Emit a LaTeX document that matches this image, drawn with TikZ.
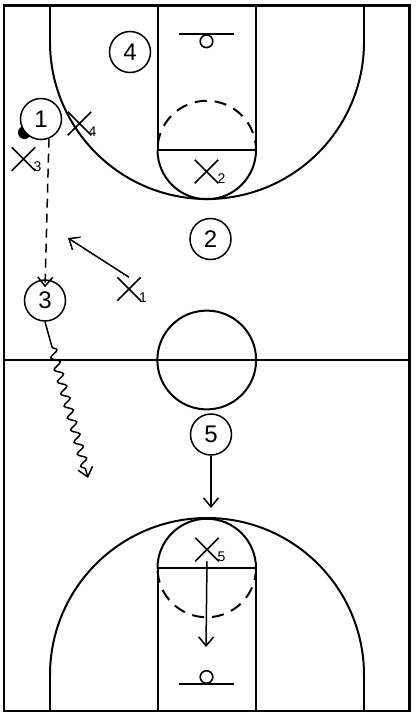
\documentclass[tikz,border=0pt]{standalone}
\usepackage{fontspec}
\setmainfont{Liberation Sans}
\usetikzlibrary{arrows.meta,shapes.misc,decorations.pathmorphing}
\begin{document}
\begin{tikzpicture}[x=1pt,y=-1pt,
  court/.style={line width=2pt},
  player/.style={circle,draw,fill=white,line width=1.5pt,minimum size=41pt,inner sep=0pt,font=\fontsize{24}{24}\selectfont},
  defender/.style={cross out,draw,line width=1.5pt,minimum size=22pt,inner sep=0pt},
  sub/.style={font=\fontsize{14}{14}\selectfont,inner sep=0pt},
  move/.style={line width=1.5pt,-{Straight Barb[length=9pt,width=15pt]}},
  halfdash/.style={court,dash pattern=on 12pt off 8pt}
]
\useasboundingbox (0,0) rectangle (416,718);
% court outline and midcourt
\draw[line width=2.4pt] (4,5.5) rectangle (409.5,711);
\draw[court] (4,360) -- (409.5,360);
\draw[court] (206.75,360) circle (49.4);
% ---- top half ----
\draw[court] (157.5,5.5) -- (157.5,150) -- (256,150) -- (256,5.5);
\begin{scope}
  \clip (140,150) rectangle (275,210);
  \draw[court] (206.75,150) circle (49.25);
\end{scope}
\begin{scope}
  \clip (140,90) rectangle (275,150);
  \draw[halfdash] (206.75,150) circle (49.25);
\end{scope}
\draw[court] (50,5.5) -- (50,42);
\draw[court] (364,5.5) -- (364,42);
\begin{scope}
  \clip (30,42) rectangle (390,210);
  \draw[court] (207,42) circle (157);
\end{scope}
\draw[court] (179,34) -- (234,34);
\draw[line width=1.6pt] (206.5,41.3) circle (6.3);
% ---- bottom half ----
\draw[court] (157.5,711) -- (157.5,568) -- (256,568) -- (256,711);
\begin{scope}
  \clip (140,505) rectangle (275,568);
  \draw[court] (206.75,568) circle (49.25);
\end{scope}
\begin{scope}
  \clip (140,568) rectangle (275,630);
  \draw[halfdash] (206.75,568) circle (49.25);
\end{scope}
\draw[court] (50,711) -- (50,675);
\draw[court] (364,711) -- (364,675);
\begin{scope}
  \clip (30,505) rectangle (390,675);
  \draw[court] (207,675) circle (157);
\end{scope}
\draw[court] (179,684) -- (234,684);
\draw[line width=1.6pt] (206.5,677) circle (6.3);
% ---- ball and players ----
\node[circle,fill=black,minimum size=13pt,inner sep=0pt] (ball) at (24.5,132.5) {};
\node[player] (p1) at (41,119) {1};
\node[player] (p2) at (210.5,239) {2};
\node[player] (p3) at (45,300.5) {3};
\node[player] (p4) at (130,52) {4};
\node[player] (p5) at (211,434.5) {5};
% ---- defenders ----
\node[defender] (x1) at (129,289) {};
\node[sub] (s1) at (143,297.5) {1};
\node[defender] (x2) at (206.5,171.5) {};
\node[sub] (s2) at (221.5,178.5) {2};
\node[defender] (x3) at (23.5,159) {};
\node[sub] (s3) at (37.5,166.5) {3};
\node[defender] (x4) at (79.5,123.5) {};
\node[sub] (s4) at (92.5,131.5) {4};
\node[defender] (x5) at (207,549.5) {};
\node[sub] (s5) at (221.5,556.5) {5};
% ---- movement ----
\coordinate (a1) at (68,238);
\coordinate (w1) at (52,347);
\coordinate (w2) at (88,478);
\coordinate (a5) at (211,508);
\coordinate (a6) at (206,647);
\draw[move,dash pattern=on 9pt off 6pt] (p1.-68) -- ([yshift=-8pt]p3.north);
\draw[move] (x1.north) -- (a1);
\draw[move] (p3.south) -- (w1) decorate[decoration={snake,amplitude=4pt,segment length=12.5pt,post length=8pt}] {-- (w2)};
\draw[move] (p5.south) -- (a5);
\draw[move] (x5.south) -- (a6);
\end{tikzpicture}
\end{document}
